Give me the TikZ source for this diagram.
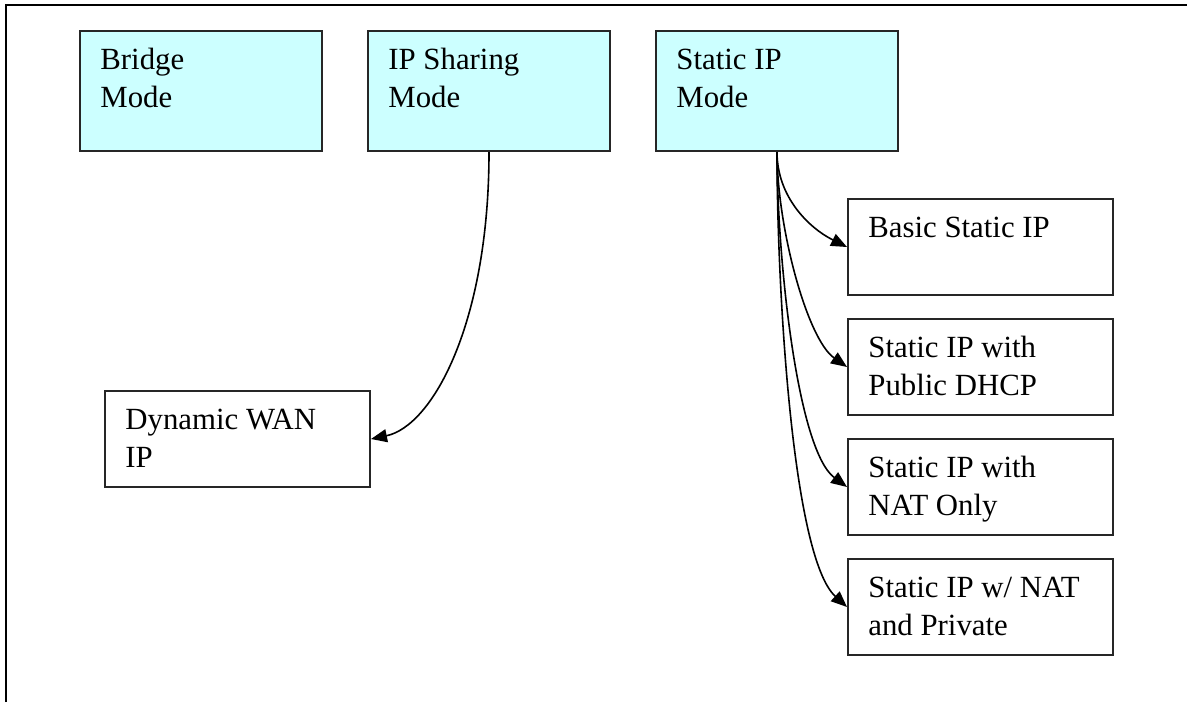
\documentclass[tikz,border=0pt]{standalone}
\usepackage{fontspec}
\setmainfont{Liberation Serif}
\usetikzlibrary{arrows.meta}
\definecolor{boxcyan}{HTML}{CCFFFF}
\begin{document}
\begin{tikzpicture}[x=0.5pt,y=-0.5pt,
  frameline/.style={line width=1.2pt},
  modebox/.style={draw=black!85, line width=1pt, fill=boxcyan, minimum width=121pt, minimum height=60pt, inner sep=0pt, anchor=north west},
  subbox/.style={draw=black!85, line width=1pt, fill=white, minimum width=132.5pt, minimum height=48pt, inner sep=0pt, anchor=north west},
  boxtext/.style={anchor=base west, inner sep=0pt, align=left, font=\fontsize{15.4}{19}\selectfont},
  link/.style={line width=0.8pt, -{Triangle[length=8pt,width=6.5pt]}}
]
\useasboundingbox (0,0) rectangle (1187,702);
\draw[frameline] (6,702) -- (6,5) -- (1187,5);

% two-line texts are anchored at the baseline of their last line
\node[modebox] (bridge) at (79,30) {};
\node[boxtext] (bridgeT) at (100,107) {Bridge\\Mode};
\node[modebox] (ipshare) at (367,30) {};
\node[boxtext] (ipshareT) at (388,107) {IP Sharing\\Mode};
\node[modebox] (smode) at (655,30) {};
\node[boxtext] (smodeT) at (676,107) {Static IP\\Mode};

\node[subbox] (basic) at (847,198) {};
\node[boxtext] (basicT) at (868,237) {Basic Static IP};
\node[subbox] (dhcp) at (847,318) {};
\node[boxtext] (dhcpT) at (868,395) {Static IP with\\Public DHCP};
\node[subbox] (nat) at (847,438) {};
\node[boxtext] (natT) at (868,515) {Static IP with\\NAT Only};
\node[subbox] (priv) at (847,558) {};
\node[boxtext] (privT) at (868,635) {Static IP w/ NAT\\and Private};

\node[subbox] (dyn) at (104,390) {};
\node[boxtext] (dynT) at (125,467) {Dynamic WAN\\IP};

\draw[link] (ipshare.south) .. controls +(0,170) and +(62,-13) .. (dyn.east);
\draw[link] (smode.south) .. controls +(0,45) and +(-38,-19) .. (basic.west);
\draw[link] (smode.south) .. controls +(0,75) and +(-40,-28) .. (dhcp.west);
\draw[link] (smode.south) .. controls +(0,105) and +(-50,-37) .. (nat.west);
\draw[link] (smode.south) .. controls +(0,135) and +(-55,-50) .. (priv.west);
\end{tikzpicture}
\end{document}
